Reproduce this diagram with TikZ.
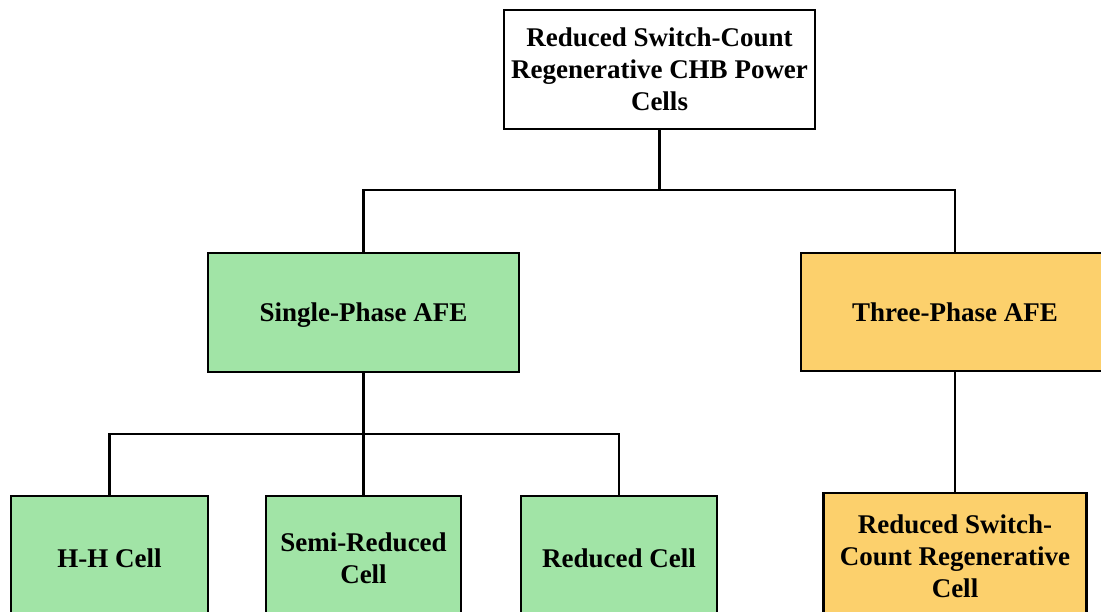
\documentclass[tikz,border=0pt]{standalone}
\usepackage{fontspec}
\setmainfont{Liberation Serif}
\usetikzlibrary{positioning}

\definecolor{cellgreen}{RGB}{161,228,166}
\definecolor{cellyellow}{RGB}{252,208,108}

\begin{document}
\begin{tikzpicture}[
    x=1pt, y=1pt,
    box/.style={draw, line width=2.3pt, align=center, inner sep=2pt,
        font=\fontsize{27}{32}\selectfont\bfseries}, % Common box look
    topbox/.style={box, fill=white, minimum width=311, minimum height=119},
    onephase/.style={box, fill=cellgreen},
    threephase/.style={box, fill=cellyellow},
    wire/.style={line width=2.3pt} % Tree connectors
]

    % Page frame, boxes at the bottom and right run off the edge
    \clip (0,0) rectangle (1101,612);
    \fill[white] (0,0) rectangle (1101,612);

    % Root
    \node[topbox] (root) at (659.5,542.5)
        {Reduced Switch-Count\\Regenerative CHB Power\\Cells};

    % Second level
    \node[onephase, minimum width=311, minimum height=119, text depth=0pt] (single) at (363.5,299.5)
        {Single-Phase AFE};
    \node[threephase, minimum width=308, minimum height=118] (three) at (955,300)
        {Three-Phase AFE};

    % Third level (single-phase branch)
    \node[onephase, minimum width=197, minimum height=124] (hh) at (109.5,54)
        {H-H Cell};
    \node[onephase, minimum width=195, minimum height=124] (semi) at (363.5,54)
        {Semi-Reduced\\Cell};
    \node[onephase, minimum width=196, minimum height=124] (red) at (619,54)
        {Reduced Cell};

    % Third level (three-phase branch)
    \node[threephase, minimum width=263, minimum height=126] (rsc) at (955,56)
        {Reduced Switch-\\Count Regenerative\\Cell};

    % Bus points
    \coordinate (bus1) at (root.south |- 0,422);
    \coordinate (bus2) at (single.south |- 0,178);

    % Connectors
    \draw[wire] (root.south) -- (bus1);
    \draw[wire] (bus1) -| (single.north);
    \draw[wire] (bus1) -| (three.north);
    \draw[wire] (single.south) -- (bus2);
    \draw[wire] (bus2) -| (hh.north);
    \draw[wire] (bus2) -| (semi.north);
    \draw[wire] (bus2) -| (red.north);
    \draw[wire] (three.south) -- (rsc.north);

\end{tikzpicture}
\end{document}
